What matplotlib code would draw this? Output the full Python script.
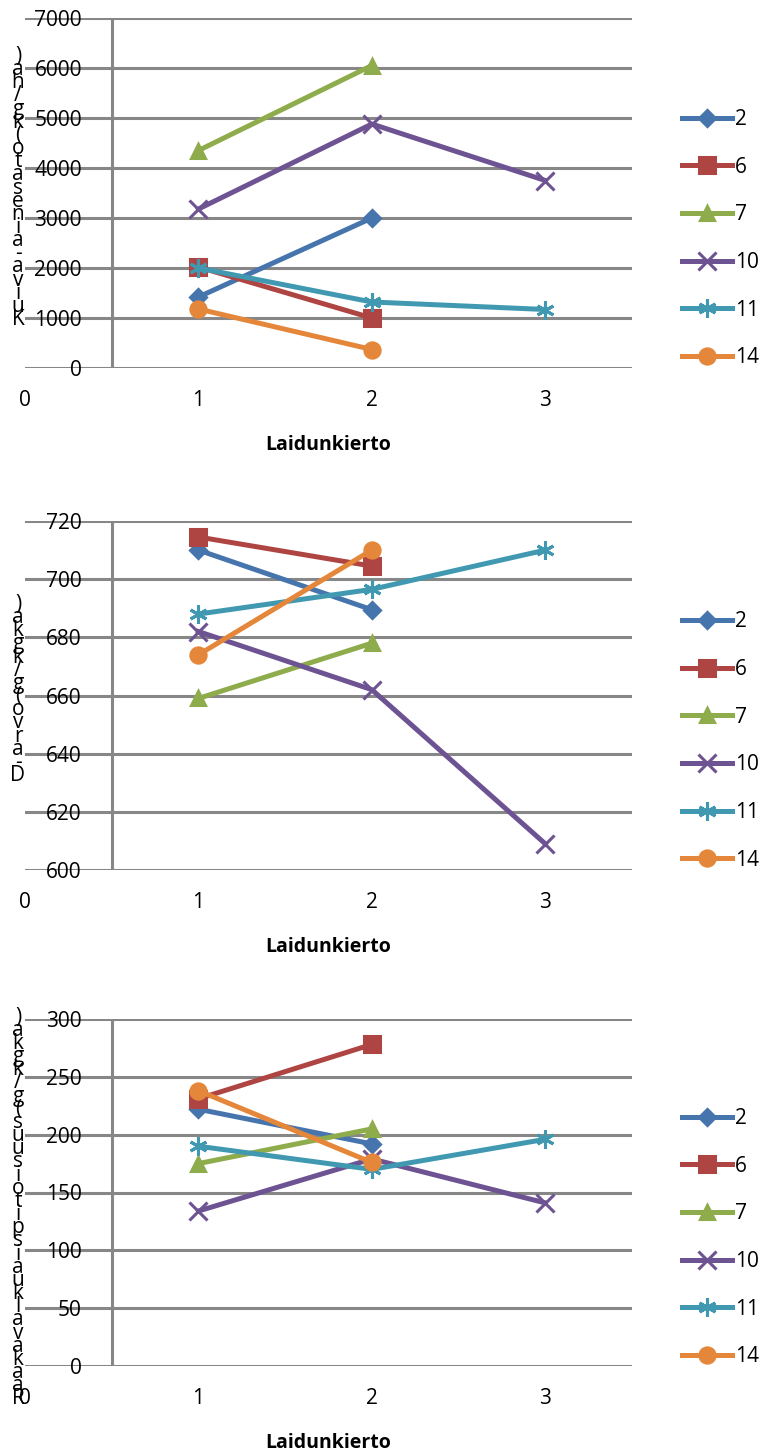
import matplotlib
matplotlib.use("Agg")
import matplotlib.pyplot as plt

plt.rcParams["font.family"] = ["Open Sans", "DejaVu Sans"]

# ── Data ──
rounds = [1, 2, 3]
series_names = ["2", "6", "7", "10", "11", "14"]

# Kuiva-ainesato (kg/ha)
yield_2 = [1420, 3000]
yield_6 = [2020, 1000]
yield_7 = [4350, 6050]
yield_10 = [3180, 4880, 3750]
yield_11 = [2000, 1320, 1170]
yield_14 = [1180, 370]

# D-arvo (g/kg ka)
darvo_2 = [710, 689.5]
darvo_6 = [714.5, 704.5]
darvo_7 = [659, 678]
darvo_10 = [682, 662, 609]
darvo_11 = [688, 696.5, 710]
darvo_14 = [674, 710]

# Raakavalkuaispitoisuus (g/kg ka)
protein_2 = [222, 192]
protein_6 = [231, 278]
protein_7 = [175, 205]
protein_10 = [134, 179, 141]
protein_11 = [190, 170, 196]
protein_14 = [238, 176]

ylabels = ["Kuiva-ainesato (kg/ha)", "D-arvo (g/kg ka)",
           "Raakavalkuaispitoisuus (g/kg ka)"]
yticks_all = [list(range(0, 7001, 1000)), list(range(600, 721, 20)),
              list(range(0, 301, 50))]
xticks = [0, 1, 2, 3]
xlabel = "Laidunkierto"

COLORS = ["#4674AD", "#AE4542", "#8EAC4B", "#6E5393", "#4199B1", "#E5873A"]
MARKERS = ["D", "s", "^", "x", (6, 2, 0), "o"]
MSIZE = [8, 11, 10, 13, 13, 11]
GRID = "#878787"

panels = [
    [yield_2, yield_6, yield_7, yield_10, yield_11, yield_14],
    [darvo_2, darvo_6, darvo_7, darvo_10, darvo_11, darvo_14],
    [protein_2, protein_6, protein_7, protein_10, protein_11, protein_14],
]

W, H = 765, 1454
fig = plt.figure(figsize=(W / 100, H / 100), dpi=100)

# pixel boxes (top, bottom) for each plot area
boxes = [(18, 368), (521, 870), (1019, 1366)]
label_centers = [188, 690, 1208]
left_px, right_px = 25, 632

for i, (top, bot) in enumerate(boxes):
    ax = fig.add_axes([left_px / W, 1 - bot / H, (right_px - left_px) / W, (bot - top) / H])
    yt = yticks_all[i]
    for j, vals in enumerate(panels[i]):
        ax.plot(rounds[:len(vals)], vals, color=COLORS[j], linewidth=3.6,
                marker=MARKERS[j], markersize=MSIZE[j], markeredgewidth=2.2,
                markerfacecolor=COLORS[j], markeredgecolor=COLORS[j],
                label=series_names[j], zorder=3, solid_joinstyle="round")

    ax.set_xlim(0, 3.5)
    ax.set_ylim(yt[0], yt[-1])
    ax.set_yticks(yt)
    ax.set_xticks(xticks)
    ax.set_yticklabels([str(v) for v in yt], fontsize=15)
    ax.set_xticklabels([str(v) for v in xticks], fontsize=15)
    ax.tick_params(axis="y", length=0, pad=-41)
    ax.tick_params(axis="x", length=0, pad=16)
    for lab in ax.get_yticklabels():
        lab.set_horizontalalignment("right")
    for s in ax.spines.values():
        s.set_visible(False)
    for v in yt:
        ax.axhline(v, color=GRID, linewidth=2.2, zorder=1)
    ax.axvline(0.5, color=GRID, linewidth=2.2, zorder=1)

    ax.set_xlabel(xlabel, fontsize=14, fontweight="bold", labelpad=17)

    ax.legend(loc="center left", bbox_to_anchor=(1.082, 0.37),
              frameon=False, fontsize=15, handlelength=2.4,
              handletextpad=0.15, labelspacing=1.28, borderaxespad=0,
              borderpad=0)

    # vertical stacked axis title (read bottom to top)
    stacked = "\n".join(reversed(list(ylabels[i].replace(" ", ""))))
    fig.text(18 / W, 1 - label_centers[i] / H, stacked, fontsize=15,
             ha="center", va="center", linespacing=0.51)

fig.savefig("out.png", dpi=100)
